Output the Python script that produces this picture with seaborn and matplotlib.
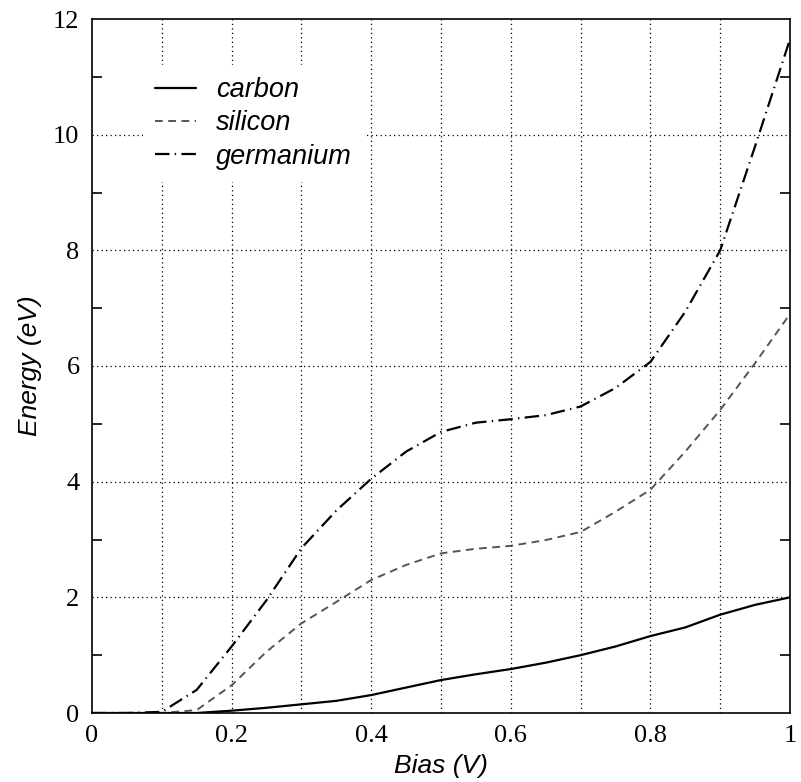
import matplotlib
matplotlib.use('Agg')
import matplotlib.pyplot as plt
import seaborn as sns
import pandas as pd
import numpy as np
from matplotlib.ticker import MultipleLocator, FixedLocator

# values
bias = [0.0, 0.05, 0.1, 0.15, 0.2, 0.25, 0.3, 0.35, 0.4, 0.45, 0.5,
        0.55, 0.6, 0.65, 0.7, 0.75, 0.8, 0.85, 0.9, 0.95, 1.0]
carbon = [0, 0, 0, 0.0, 0.04, 0.09, 0.15, 0.21, 0.31, 0.44, 0.57,
          0.67, 0.76, 0.87, 1.0, 1.15, 1.33, 1.48, 1.7, 1.87, 2.0]
silicon = [0, 0, 0, 0.05, 0.48, 1.06, 1.55, 1.92, 2.3, 2.56, 2.76,
           2.84, 2.89, 2.99, 3.13, 3.48, 3.86, 4.52, 5.24, 6.05, 6.9]
germanium = [0, 0, 0.02, 0.4, 1.15, 1.95, 2.85, 3.5, 4.05, 4.52, 4.86,
             5.02, 5.08, 5.15, 5.3, 5.62, 6.07, 6.94, 8.0, 9.8, 11.65]

x_ticks = [0, 0.2, 0.4, 0.6, 0.8, 1]
x_ticklabels = ['0', '0.2', '0.4', '0.6', '0.8', '1']
y_ticks = [0, 2, 4, 6, 8, 10, 12]

df = pd.DataFrame({'bias': bias, 'carbon': carbon,
                   'silicon': silicon, 'germanium': germanium})

sns.set_theme(style='white')
plt.rcParams['font.family'] = ['Liberation Serif', 'DejaVu Serif']
plt.rcParams['text.color'] = 'black'
plt.rcParams['axes.labelcolor'] = 'black'

fig = plt.figure(figsize=(8.01, 7.82), dpi=100)
ax = fig.add_axes([92/801, 1-713/782, 698/801, 694/782])

styles = {
    'carbon': dict(color='black', lw=1.6, ls='-'),
    'silicon': dict(color='#555555', lw=1.4, ls=(0, (4.0, 2.8))),
    'germanium': dict(color='black', lw=1.6, ls=(0, (6.5, 2.4, 0.6, 2.4))),
}
for name in ['carbon', 'silicon', 'germanium']:
    st = styles[name]
    sns.lineplot(data=df, x='bias', y=name, ax=ax, color=st['color'],
                 linewidth=st['lw'], linestyle=st['ls'], label=name)

ax.set_xlim(0, 1)
ax.set_ylim(0, 12)
ax.set_xticks(x_ticks)
ax.set_xticklabels(x_ticklabels)
ax.set_yticks(y_ticks)
ax.xaxis.set_minor_locator(MultipleLocator(0.1))
ax.yaxis.set_minor_locator(FixedLocator([1, 3, 5, 7, 9, 11]))

# grid: every 0.1 on x, even values on y
ax.grid(False)
for v in np.arange(0.1, 1.0, 0.1):
    ax.axvline(v, color='black', lw=0.9, ls=(0, (1, 2.6)), zorder=0.5)
for v in [2, 4, 6, 8, 10]:
    ax.axhline(v, color='black', lw=0.9, ls=(0, (1, 2.6)), zorder=0.5)

ax.tick_params(axis='both', which='major', direction='in', length=0,
               labelsize=19, colors='black')
ax.tick_params(axis='x', which='major', pad=9)
ax.tick_params(axis='y', which='major', pad=9)
ax.tick_params(axis='x', which='minor', length=0)
ax.tick_params(axis='y', which='minor', direction='in', length=7,
               width=1.2, left=True, right=True, color='black')

for sp in ax.spines.values():
    sp.set_visible(True)
    sp.set_color('black')
    sp.set_linewidth(1.2)

ax.set_xlabel('Bias (V)', fontsize=19, fontstyle='italic', color='black',
              family=['Liberation Sans', 'DejaVu Sans'], labelpad=5)
ax.set_ylabel('Energy (eV)', fontsize=19, fontstyle='italic', color='black',
              family=['Liberation Sans', 'DejaVu Sans'], labelpad=8)

leg = ax.legend(loc='upper left', bbox_to_anchor=(0.073, 0.934),
                borderaxespad=0, frameon=True, fancybox=False,
                prop={'family': ['Liberation Sans', 'DejaVu Sans'],
                      'style': 'italic', 'size': 19.5},
                handlelength=1.5, handletextpad=0.75, labelspacing=0.27,
                borderpad=0.45)
leg.get_frame().set_facecolor('white')
leg.get_frame().set_edgecolor('none')
leg.get_frame().set_alpha(1)
leg.set_zorder(3)
for t in leg.get_texts():
    t.set_color('black')

fig.savefig('out.png', dpi=100, facecolor='white')
